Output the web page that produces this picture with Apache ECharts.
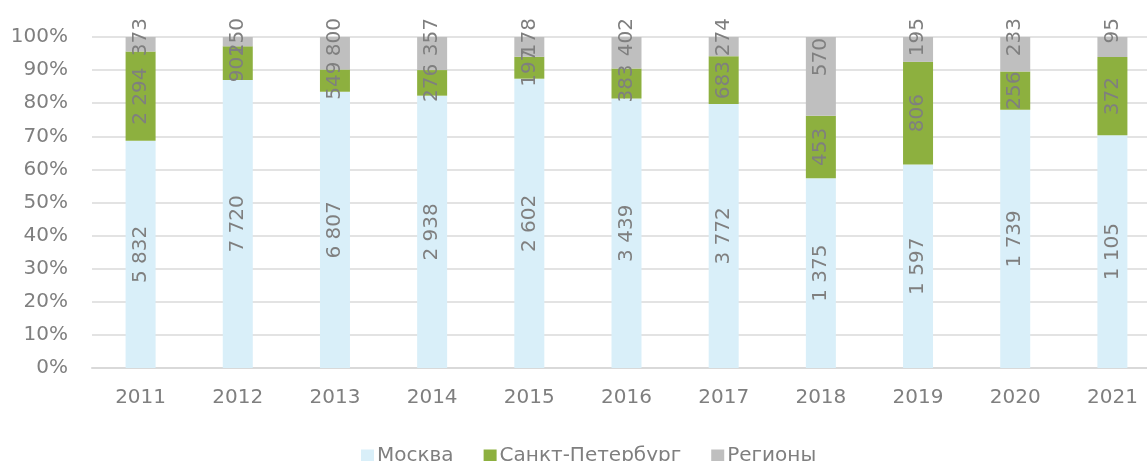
<!DOCTYPE html>
<html>
<head>
<meta charset="utf-8">
<script src="https://cdn.jsdelivr.net/npm/echarts@6.0.0/dist/echarts.min.js"></script>
<style>
  html, body { margin: 0; padding: 0; background: #fff; }
  #chart { width: 1147px; height: 461px; }
</style>
</head>
<body>
<div id="chart"></div>
<script>
// raw counts per year, bars are drawn as share of the yearly total
const years = ['2011', '2012', '2013', '2014', '2015', '2016', '2017', '2018', '2019', '2020', '2021'];
const moscow = [5832, 7720, 6807, 2938, 2602, 3439, 3772, 1375, 1597, 1739, 1105];
const spb = [2294, 901, 549, 276, 197, 383, 683, 453, 806, 256, 372];
const regions = [373, 250, 800, 357, 178, 402, 274, 570, 195, 233, 95];

const totals = years.map((y, i) => moscow[i] + spb[i] + regions[i]);
const pct = arr => arr.map((v, i) => ({ value: v / totals[i] * 100, raw: v }));

const grey = '#7f7f7f';
const font = 'DejaVu Sans';
const fmt = p => String(p.data.raw).replace(/\B(?=(\d{3})+(?!\d))/g, ' ');

const insideLabel = {
  show: true,
  position: 'inside',
  rotate: 90,
  color: grey,
  fontFamily: font,
  fontSize: 20,
  formatter: fmt
};

// regions labels sit above the bar top, except where the segment is large enough
const regionData = pct(regions).map((d, i) => {
  if (regions[i] / totals[i] > 0.15) {
    d.label = { position: 'insideTop', distance: 1 };
  }
  return d;
});

const chart = echarts.init(document.getElementById('chart'));
chart.setOption({
  animation: false,
  backgroundColor: '#fff',
  textStyle: { fontFamily: font },
  grid: { left: 92, right: -14, top: 37, bottom: 93, containLabel: false, outerBoundsMode: 'none' },
  legend: {
    left: 356,
    top: 441,
    itemWidth: 13,
    itemHeight: 13,
    itemGap: 30,
    icon: 'rect',
    textStyle: { color: grey, fontSize: 20, fontFamily: font, padding: [0, 0, 0, -2] },
    data: ['Москва', 'Санкт-Петербург', 'Регионы']
  },
  xAxis: {
    type: 'category',
    data: years,
    axisLine: { lineStyle: { color: '#d9d9d9', width: 2 } },
    axisTick: { show: false },
    axisLabel: { color: grey, fontSize: 20, fontFamily: font, margin: 20 }
  },
  yAxis: {
    type: 'value',
    min: 0,
    max: 100,
    interval: 10,
    axisLine: { show: false },
    axisTick: { show: false },
    axisLabel: { color: grey, fontSize: 20, fontFamily: font, margin: 24, formatter: '{value}%' },
    splitLine: { lineStyle: { color: '#e3e3e3', width: 2 } }
  },
  series: [
    {
      name: 'Москва',
      type: 'bar',
      stack: 'all',
      barWidth: 30,
      itemStyle: { color: '#d9eff9' },
      label: insideLabel,
      data: pct(moscow)
    },
    {
      name: 'Санкт-Петербург',
      type: 'bar',
      stack: 'all',
      barWidth: 30,
      itemStyle: { color: '#8db03f' },
      label: insideLabel,
      data: pct(spb)
    },
    {
      name: 'Регионы',
      type: 'bar',
      stack: 'all',
      barWidth: 30,
      itemStyle: { color: '#bfbfbf' },
      label: {
        show: true,
        position: 'top',
        distance: 19,
        rotate: 90,
        align: 'right',
        verticalAlign: 'middle',
        color: grey,
        fontFamily: font,
        fontSize: 20,
        formatter: fmt
      },
      data: regionData
    }
  ]
});
</script>
</body>
</html>
